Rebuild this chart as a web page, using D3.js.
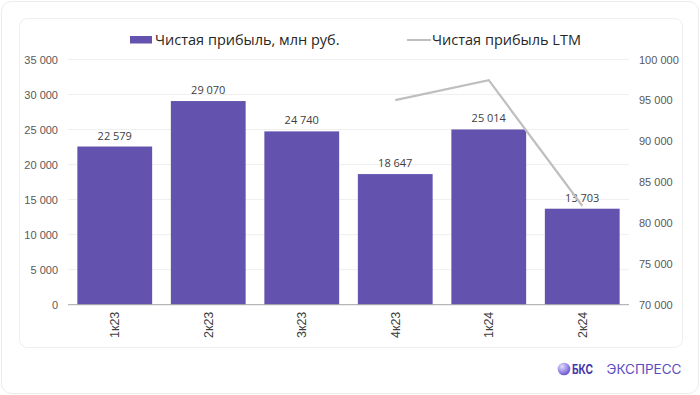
<!DOCTYPE html>
<html>
<head>
<meta charset="utf-8">
<script src="https://cdn.jsdelivr.net/npm/d3@7"></script>
<style>
  body { margin: 0; background: #fff; }
  svg { display: block; font-family: "Segoe UI", "Open Sans", "Noto Sans", sans-serif; }
</style>
</head>
<body>
<svg id="chart"></svg>
<script>
let quarters = ["1к23", "2к23", "3к23", "4к23", "1к24", "2к24"];
let profit = [22579, 29070, 24740, 18647, 25014, 13703];
let ltmQuarters = ["4к23", "1к24", "2к24"];
let ltm = [95036, 97471, 82104];
let leftTicks = [0, 5000, 10000, 15000, 20000, 25000, 30000, 35000];
let rightTicks = [70000, 75000, 80000, 85000, 90000, 95000, 100000];
let barName = "Чистая прибыль, млн руб.";
let lineName = "Чистая прибыль LTM";

let width = 700;
let height = 395;
let plotLeft = 68;
let plotRight = 629;
let plotTop = 59.5;
let plotBottom = 304.7;

let fmt = v => d3.format(",")(v).replace(/,/g, " ");

let svg = d3.select('#chart')
  .attr('width', width)
  .attr('height', height);

// cards
svg.append('rect')
  .attr('x', 1.5).attr('y', 1.5)
  .attr('width', width - 3).attr('height', height - 3)
  .attr('rx', 10)
  .attr('fill', '#fff')
  .attr('stroke', '#ececec');

svg.append('rect')
  .attr('x', 19.5).attr('y', 18.5)
  .attr('width', 663).attr('height', 329)
  .attr('rx', 8)
  .attr('fill', '#fff')
  .attr('stroke', '#eeeeee');

let xScale = d3.scaleBand()
  .domain(quarters)
  .range([plotLeft, plotRight])
  .paddingInner(0.2)
  .paddingOuter(0.1);

let yLeft = d3.scaleLinear()
  .domain([0, 35000])
  .range([plotBottom, plotTop]);

let yRight = d3.scaleLinear()
  .domain([70000, 100000])
  .range([plotBottom, plotTop]);

// grid
svg.append('g')
  .selectAll('line')
  .data(leftTicks.slice(1))
  .enter()
  .append('line')
  .attr('x1', plotLeft).attr('x2', plotRight)
  .attr('y1', d => yLeft(d)).attr('y2', d => yLeft(d))
  .attr('stroke', '#efefef')
  .attr('stroke-width', 1);

// left axis
let leftAxis = d3.axisLeft(yLeft).tickValues(leftTicks).tickSize(0).tickPadding(10).tickFormat(fmt);
let gl = svg.append('g')
  .attr('transform', 'translate(' + plotLeft + ',0)')
  .call(leftAxis);
gl.select('.domain').remove();
gl.selectAll('text').attr('fill', '#595959').style('font-size', '11px').style('font-family', 'inherit');

// right axis
let rightAxis = d3.axisRight(yRight).tickValues(rightTicks).tickSize(0).tickPadding(10).tickFormat(fmt);
let gr = svg.append('g')
  .attr('transform', 'translate(' + plotRight + ',0)')
  .call(rightAxis);
gr.select('.domain').remove();
gr.selectAll('text').attr('fill', '#595959').style('font-size', '11px').style('font-family', 'inherit');

// bars
svg.append('g')
  .selectAll('rect')
  .data(profit)
  .enter()
  .append('rect')
  .attr('x', (d, i) => xScale(quarters[i]))
  .attr('y', d => yLeft(d))
  .attr('width', xScale.bandwidth())
  .attr('height', d => yLeft(0) - yLeft(d))
  .attr('fill', '#6453AE');

// bar labels
svg.append('g')
  .selectAll('text')
  .data(profit)
  .enter()
  .append('text')
  .attr('x', (d, i) => xScale(quarters[i]) + xScale.bandwidth() / 2)
  .attr('y', d => yLeft(d) - 7)
  .attr('text-anchor', 'middle')
  .attr('fill', '#404040')
  .style('font-size', '11px')
  .text(d => fmt(d));

// baseline
svg.append('line')
  .attr('x1', plotLeft).attr('x2', plotRight)
  .attr('y1', plotBottom).attr('y2', plotBottom)
  .attr('stroke', '#a6a6a6')
  .attr('stroke-width', 1);

// x labels
let xAxis = d3.axisBottom(xScale).tickSize(0).tickPadding(0);
let gx = svg.append('g')
  .attr('transform', 'translate(0,' + plotBottom + ')')
  .call(xAxis);
gx.select('.domain').remove();
gx.selectAll('text')
  .attr('transform', 'rotate(-90)')
  .attr('x', -7)
  .attr('y', 0)
  .attr('dy', '0.35em')
  .attr('text-anchor', 'end')
  .attr('fill', '#404040')
  .style('font-size', '12.5px')
  .style('font-family', 'inherit');

// LTM line
let line = d3.line()
  .x((d, i) => xScale(ltmQuarters[i]) + xScale.bandwidth() / 2)
  .y(d => yRight(d));

svg.append('path')
  .datum(ltm)
  .attr('d', line)
  .attr('fill', 'none')
  .attr('stroke', '#bfbfbf')
  .attr('stroke-width', 2.25);

// legend
let legend = svg.append('g');
legend.append('rect')
  .attr('x', 130).attr('y', 36)
  .attr('width', 22).attr('height', 7.5)
  .attr('fill', '#6453AE');
legend.append('text')
  .attr('x', 155).attr('y', 45)
  .attr('fill', '#262626')
  .style('font-size', '14.5px')
  .text(barName);
legend.append('line')
  .attr('x1', 407).attr('x2', 431)
  .attr('y1', 40).attr('y2', 40)
  .attr('stroke', '#bfbfbf')
  .attr('stroke-width', 2);
legend.append('text')
  .attr('x', 432).attr('y', 45)
  .attr('fill', '#262626')
  .style('font-size', '14.5px')
  .text(lineName);

// logo
let logo = svg.append('g');
let grad = svg.append('defs').append('radialGradient')
  .attr('id', 'ball').attr('cx', '35%').attr('cy', '30%').attr('r', '75%');
grad.append('stop').attr('offset', '0%').attr('stop-color', '#e4deff');
grad.append('stop').attr('offset', '100%').attr('stop-color', '#6350d0');
logo.append('circle')
  .attr('cx', 564).attr('cy', 369).attr('r', 6.3)
  .attr('fill', 'url(#ball)');
logo.append('text')
  .attr('x', 572).attr('y', 373.5)
  .attr('font-weight', 700)
  .attr('fill', '#4536a8')
  .attr('textLength', 21)
  .attr('lengthAdjust', 'spacingAndGlyphs')
  .style('font-size', '12.5px')
  .style('font-family', 'Inter, "Noto Sans", sans-serif')
  .text('БКС');
logo.append('text')
  .attr('x', 606.5).attr('y', 373.5)
  .attr('fill', '#5a4bc2')
  .attr('textLength', 75)
  .attr('lengthAdjust', 'spacingAndGlyphs')
  .style('font-size', '12.5px')
  .style('font-family', 'Inter, "Noto Sans", sans-serif')
  .text('ЭКСПРЕСС');
</script>
</body>
</html>
